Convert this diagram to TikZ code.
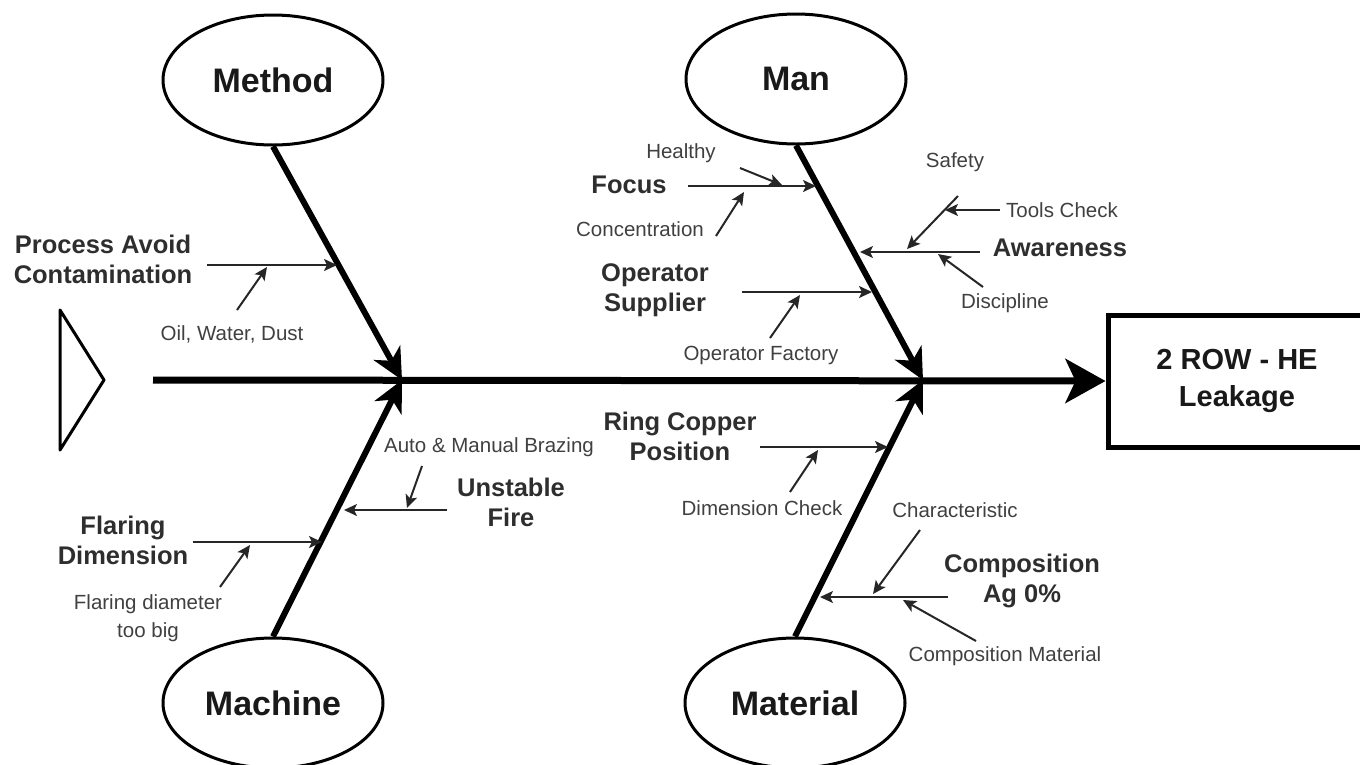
\documentclass[tikz,border=0pt]{standalone}
\usepackage{fontspec}
\setmainfont{Liberation Sans}
\usetikzlibrary{shapes.geometric,arrows.meta}
\begin{document}
\begin{tikzpicture}[x=1pt,y=-1pt,
 bigtxt/.style={font=\fontsize{34}{38}\selectfont\bfseries, text=black!90},
 medtxt/.style={font=\fontsize{25.5}{30}\selectfont\bfseries, text=black!82, align=center, inner sep=0pt},
 smalltxt/.style={font=\fontsize{20.5}{28}\selectfont, text=black!75, align=center, inner sep=0pt},
 cat/.style={ellipse, draw, line width=3pt, minimum width=220pt, minimum height=130pt, inner sep=0pt, bigtxt},
 bone/.style={line width=6pt, -{Stealth[length=31pt,width=30pt,inset=9pt]}},
 sub/.style={line width=2pt, draw=black!85, -{Stealth[length=13pt,width=12pt,inset=3pt]}},
 spine/.style={line width=7pt, -{Stealth[length=40pt,width=44pt,inset=10pt]}}]
\useasboundingbox (0,0) rectangle (1360,764);

% head (effect) and tail
\node[draw, line width=5pt, minimum width=258pt, minimum height=132pt, inner sep=0pt,
      font=\fontsize{29}{37}\selectfont\bfseries, text=black!90, align=center] (effect) at (1237,381) {2 ROW - HE\\Leakage};
\draw[line width=3pt, line join=round] (60,310) -- (104,380) -- (60,450) -- cycle;
\coordinate (sp) at (153,380);
\draw[spine] (sp) -- (effect.west);

% categories
\node[cat] (method) at (273,80) {Method};
\node[cat] (man) at (796,79) {Man};
\node[cat] (machine) at (273,703) {Machine};
\node[cat] (material) at (795,703) {Material};

\coordinate (j1) at (402,380);
\coordinate (j2) at (923,380);
\draw[bone] (method.south) -- (j1);
\draw[bone] (machine.north) -- (j1);
\draw[bone] (man.south) -- (j2);
\draw[bone] (material.north) -- (j2);

% ---- Method
\node[medtxt] (pac) at (103,259) {Process Avoid\\Contamination};
\coordinate (pacT) at (207,265); \coordinate (pacH) at (337,265);
\draw[sub] (pacT) -- (pacH);
\node[smalltxt] (owd) at (232,334) {Oil, Water, Dust};
\coordinate (owdT) at (237,310); \coordinate (owdH) at (267,267);
\draw[sub] (owdT) -- (owdH);

% ---- Machine
\node[smalltxt] (amb) at (489,447) {Auto \& Manual Brazing};
\coordinate (ambT) at (422,466); \coordinate (ambH) at (407,508);
\draw[sub] (ambT) -- (ambH);
\node[medtxt] (uf) at (511,502) {Unstable\\Fire};
\coordinate (ufT) at (447,510); \coordinate (ufH) at (344,510);
\draw[sub] (ufT) -- (ufH);
\node[medtxt] (fd) at (123,540) {Flaring\\Dimension};
\coordinate (fdT) at (193,542); \coordinate (fdH) at (322,542);
\draw[sub] (fdT) -- (fdH);
\node[smalltxt] (fdt) at (148,618) {Flaring diameter\\too big};
\coordinate (fdtT) at (220,587); \coordinate (fdtH) at (250,545);
\draw[sub] (fdtT) -- (fdtH);

% ---- Man
\node[smalltxt] (hea) at (681,153) {Healthy};
\coordinate (heaT) at (740,168); \coordinate (heaH) at (782,185);
\draw[sub] (heaT) -- (heaH);
\node[medtxt] (foc) at (629,185) {Focus};
\coordinate (focT) at (688,186); \coordinate (focH) at (816,186);
\draw[sub] (focT) -- (focH);
\node[smalltxt] (con) at (640,229) {Concentration};
\coordinate (conT) at (716,236); \coordinate (conH) at (744,192);
\draw[sub] (conT) -- (conH);
\node[smalltxt] (saf) at (955,162) {Safety};
\coordinate (safT) at (958,196); \coordinate (safH) at (907,249);
\draw[sub] (safT) -- (safH);
\node[smalltxt] (too) at (1062,210) {Tools Check};
\coordinate (tooT) at (1000,210); \coordinate (tooH) at (945,210);
\draw[sub] (tooT) -- (tooH);
\node[medtxt] (awa) at (1060,248) {Awareness};
\coordinate (awaT) at (980,252); \coordinate (awaH) at (860,252);
\draw[sub] (awaT) -- (awaH);
\node[smalltxt] (dis) at (1005,303) {Discipline};
\coordinate (disT) at (983,287); \coordinate (disH) at (938,254);
\draw[sub] (disT) -- (disH);
\node[medtxt] (ops) at (655,290) {Operator\\Supplier};
\coordinate (opsT) at (742,292); \coordinate (opsH) at (872,292);
\draw[sub] (opsT) -- (opsH);
\node[smalltxt] (opf) at (761,355) {Operator Factory};
\coordinate (opfT) at (770,338); \coordinate (opfH) at (800,295);
\draw[sub] (opfT) -- (opfH);

% ---- Material
\node[medtxt] (rcp) at (680,436) {Ring Copper\\Position};
\coordinate (rcpT) at (760,447); \coordinate (rcpH) at (888,447);
\draw[sub] (rcpT) -- (rcpH);
\node[smalltxt] (dch) at (762,508) {Dimension Check};
\coordinate (dchT) at (790,492); \coordinate (dchH) at (818,450);
\draw[sub] (dchT) -- (dchH);
\node[smalltxt] (cha) at (955,510) {Characteristic};
\coordinate (chaT) at (920,530); \coordinate (chaH) at (873,594);
\draw[sub] (chaT) -- (chaH);
\node[medtxt] (com) at (1022,581) {Composition\\Ag 0\%};
\coordinate (comT) at (948,597); \coordinate (comH) at (820,597);
\draw[sub] (comT) -- (comH);
\node[smalltxt] (cmm) at (1005,656) {Composition Material};
\coordinate (cmmT) at (976,641); \coordinate (cmmH) at (903,600);
\draw[sub] (cmmT) -- (cmmH);
\end{tikzpicture}
\end{document}
